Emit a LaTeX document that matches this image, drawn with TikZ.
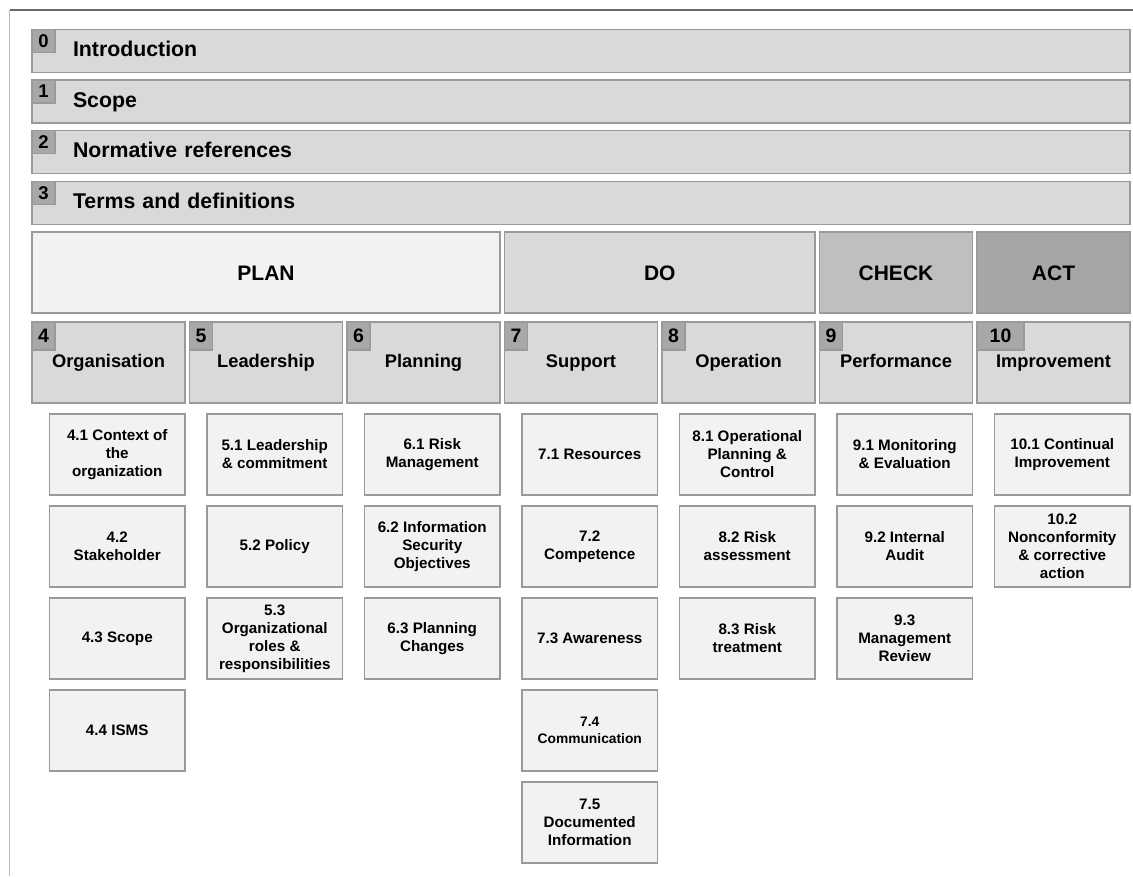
\documentclass[tikz,border=0pt]{standalone}
\usepackage{fontspec}
\setmainfont{Liberation Sans}

\definecolor{edge}{HTML}{9A9A9A}
\definecolor{paleface}{HTML}{F2F2F2}
\definecolor{midface}{HTML}{D9D9D9}
\definecolor{checkface}{HTML}{BFBFBF}
\definecolor{actface}{HTML}{A6A6A6}
\definecolor{badgeface}{HTML}{A8A8A8}
\definecolor{topline}{HTML}{6A6A6A}
\definecolor{sideline}{HTML}{BDBDBD}

\tikzset{
  boxbase/.style={draw=edge, line width=1.2pt, rectangle, inner sep=0pt,
    outer sep=0pt, anchor=north west},
  bar/.style={boxbase, fill=midface, minimum height=43pt, text width=1016pt,
    inner xsep=41pt, align=left, text height=15pt, text depth=4pt,
    font=\fontsize{21.3}{25}\selectfont\bfseries},
  barnum/.style={boxbase, fill=badgeface, minimum width=23pt, minimum height=23pt,
    font=\fontsize{18.5}{18.5}\selectfont\bfseries},
  phase/.style={boxbase, minimum height=81pt, text height=15pt, text depth=0pt,
    font=\fontsize{21}{25}\selectfont\bfseries},
  chapter/.style={boxbase, fill=midface, minimum width=153pt, minimum height=81pt,
    text height=13pt, text depth=3pt,
    font=\fontsize{18.3}{22}\selectfont\bfseries},
  chapnum/.style={boxbase, fill=badgeface, minimum width=23pt, minimum height=28pt,
    font=\fontsize{19.5}{19.5}\selectfont\bfseries},
  clause/.style={boxbase, fill=paleface, minimum width=135.5pt, minimum height=81pt,
    align=center, font=\fontsize{15.2}{18}\selectfont\bfseries},
}

\begin{document}
\begin{tikzpicture}[x=1pt,y=-1pt]
\useasboundingbox (0,0) rectangle (1133,876);

% outer frame lines
\draw[sideline, line width=1.2pt] (9.5,10) -- (9.5,876);
\draw[topline, line width=1.2pt] (9.5,10) -- (1133,10);

% numbered front-matter bars
\node[bar] (b0) at (32,29.3)  {Introduction};
\node[bar] (b1) at (32,80)    {Scope};
\node[bar] (b2) at (32,130.7) {Normative references};
\node[bar] (b3) at (32,181.4) {Terms and definitions};
\node[barnum] (n0) at (b0.north west) {0};
\node[barnum] (n1) at (b1.north west) {1};
\node[barnum] (n2) at (b2.north west) {2};
\node[barnum] (n3) at (b3.north west) {3};

% PDCA phase headers
\node[phase, fill=paleface, minimum width=468pt]   (plan)  at (32,232)    {PLAN};
\node[phase, fill=midface, minimum width=310.5pt]  (do)    at (504.5,232) {DO};
\node[phase, fill=checkface, minimum width=153pt]  (check) at (819.5,232) {CHECK};
\node[phase, fill=actface, minimum width=153pt]    (act)   at (977,232)   {ACT};

% chapter headers
\node[chapter] (c4)  at (32,322)    {Organisation};
\node[chapter] (c5)  at (189.5,322) {Leadership};
\node[chapter] (c6)  at (347,322)   {Planning};
\node[chapter] (c7)  at (504.5,322) {Support};
\node[chapter] (c8)  at (662,322)   {Operation};
\node[chapter] (c9)  at (819.5,322) {Performance};
\node[chapter] (c10) at (977,322)   {Improvement};
\node[chapnum] (k4)  at (c4.north west) {4};
\node[chapnum] (k5)  at (c5.north west) {5};
\node[chapnum] (k6)  at (c6.north west) {6};
\node[chapnum] (k7)  at (c7.north west) {7};
\node[chapnum] (k8)  at (c8.north west) {8};
\node[chapnum] (k9)  at (c9.north west) {9};
\node[chapnum, minimum width=47pt] (k10) at (c10.north west) {10};

% clauses: chapter 4
\node[clause] (s41) at (49.5,414) {4.1 Context of\\the\\organization};
\node[clause] (s42) at (49.5,506) {4.2\\Stakeholder};
\node[clause] (s43) at (49.5,598) {4.3 Scope};
\node[clause] (s44) at (49.5,690) {4.4 ISMS};
% chapter 5
\node[clause] (s51) at (207,414) {5.1 Leadership\\\& commitment};
\node[clause] (s52) at (207,506) {5.2 Policy};
\node[clause] (s53) at (207,598) {5.3\\Organizational\\roles \&\\responsibilities};
% chapter 6
\node[clause] (s61) at (364.5,414) {6.1 Risk\\Management};
\node[clause] (s62) at (364.5,506) {6.2 Information\\Security\\Objectives};
\node[clause] (s63) at (364.5,598) {6.3 Planning\\Changes};
% chapter 7
\node[clause] (s71) at (522,414) {7.1 Resources};
\node[clause] (s72) at (522,506) {7.2\\Competence};
\node[clause] (s73) at (522,598) {7.3 Awareness};
\node[clause, font=\fontsize{13.8}{17}\selectfont\bfseries] (s74) at (522,690) {7.4\\Communication};
\node[clause] (s75) at (522,782) {7.5\\Documented\\Information};
% chapter 8
\node[clause] (s81) at (679.5,414) {8.1 Operational\\Planning \&\\Control};
\node[clause] (s82) at (679.5,506) {8.2 Risk\\assessment};
\node[clause] (s83) at (679.5,598) {8.3 Risk\\treatment};
% chapter 9
\node[clause] (s91) at (837,414) {9.1 Monitoring\\\& Evaluation};
\node[clause] (s92) at (837,506) {9.2 Internal\\Audit};
\node[clause] (s93) at (837,598) {9.3\\Management\\Review};
% chapter 10
\node[clause] (s101) at (994.5,414) {10.1 Continual\\Improvement};
\node[clause] (s102) at (994.5,506) {10.2\\Nonconformity\\\& corrective\\action};
\end{tikzpicture}
\end{document}
